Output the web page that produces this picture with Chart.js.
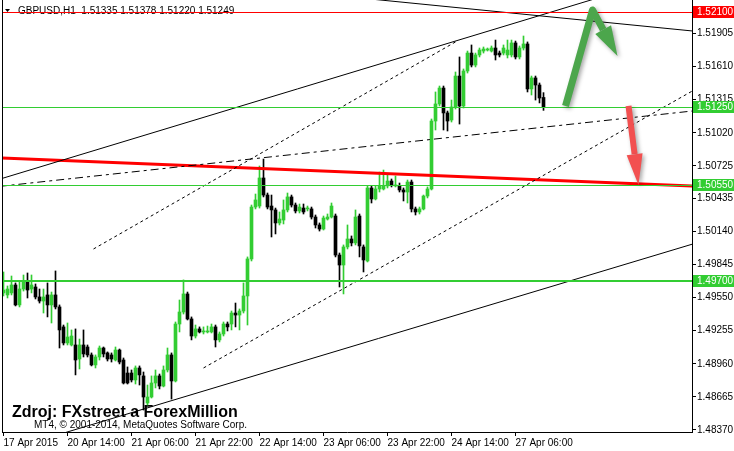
<!DOCTYPE html>
<html>
<head>
<meta charset="utf-8">
<script src="https://cdn.jsdelivr.net/npm/chart.js@4.4.1/dist/chart.umd.min.js"></script>
<style>
html, body { margin: 0; padding: 0; background: #fff; }
#wrap { width: 734px; height: 451px; position: relative; }
</style>
</head>
<body>
<div id="wrap"><canvas id="chart"></canvas></div>
<script>
// GBPUSD H1, 17.4. - 27.4.2015, one value per hourly bar
var opens = [
  1.49592, 1.49574, 1.49592, 1.49663, 1.49485, 1.49627, 1.49699, 1.49627, 1.49645, 1.49556,
  1.49520, 1.49574, 1.49485, 1.49574, 1.49467, 1.49289, 1.49146, 1.49128, 1.49128, 1.49003,
  1.49128, 1.49110, 1.49039, 1.48950, 1.49021, 1.49101, 1.49057, 1.49039, 1.48994, 1.49083,
  1.48994, 1.48878, 1.48878, 1.48816, 1.48923, 1.48852, 1.48611, 1.48664, 1.48789, 1.48852,
  1.48762, 1.48905, 1.49039, 1.48807, 1.49315, 1.49422, 1.49583, 1.49360, 1.49208, 1.49271,
  1.49244, 1.49244, 1.49244, 1.49289, 1.49173, 1.49226, 1.49315, 1.49315, 1.49413, 1.49395,
  1.49431, 1.49565, 1.49895, 1.50358, 1.50367, 1.50617, 1.50465, 1.50367, 1.50332, 1.50216,
  1.50242, 1.50332, 1.50448, 1.50376, 1.50323, 1.50349, 1.50341, 1.50341, 1.50269, 1.50198,
  1.50162, 1.50251, 1.50269, 1.50278, 1.49930, 1.49841, 1.50002, 1.50073, 1.50038, 1.50278,
  1.50002, 1.49877, 1.50528, 1.50430, 1.50519, 1.50519, 1.50546, 1.50590, 1.50546, 1.50546,
  1.50510, 1.50492, 1.50581, 1.50341, 1.50314, 1.50341, 1.50456, 1.50519, 1.51125, 1.51277,
  1.51419, 1.51197, 1.51134, 1.51250, 1.51526, 1.51259, 1.51571, 1.51731, 1.51624, 1.51714,
  1.51749, 1.51758, 1.51749, 1.51776, 1.51731, 1.51731, 1.51714, 1.51714, 1.51821, 1.51696,
  1.51776, 1.51812, 1.51411, 1.51509, 1.51446, 1.51335
];
var highs = [
  1.49779, 1.49654, 1.49743, 1.49681, 1.49699, 1.49752, 1.49770, 1.49752, 1.49672, 1.49627,
  1.49627, 1.49681, 1.49600, 1.49788, 1.49485, 1.49306, 1.49324, 1.49262, 1.49271, 1.49181,
  1.49262, 1.49128, 1.49057, 1.49039, 1.49119, 1.49110, 1.49066, 1.49057, 1.49110, 1.49092,
  1.49012, 1.48932, 1.48905, 1.48941, 1.48941, 1.48887, 1.48771, 1.48852, 1.48905, 1.48869,
  1.48941, 1.49101, 1.49057, 1.49333, 1.49529, 1.49708, 1.49600, 1.49378, 1.49306, 1.49289,
  1.49289, 1.49297, 1.49315, 1.49306, 1.49244, 1.49333, 1.49333, 1.49431, 1.49502, 1.49449,
  1.49681, 1.49913, 1.50376, 1.50474, 1.50724, 1.50786, 1.50483, 1.50465, 1.50349, 1.50314,
  1.50421, 1.50483, 1.50465, 1.50394, 1.50385, 1.50385, 1.50367, 1.50358, 1.50287, 1.50216,
  1.50278, 1.50296, 1.50394, 1.50296, 1.49948, 1.50020, 1.50198, 1.50100, 1.50332, 1.50296,
  1.50020, 1.50546, 1.50546, 1.50546, 1.50670, 1.50688, 1.50653, 1.50608, 1.50635, 1.50572,
  1.50528, 1.50599, 1.50599, 1.50358, 1.50358, 1.50465, 1.50537, 1.51143, 1.51384, 1.51437,
  1.51437, 1.51214, 1.51312, 1.51562, 1.51696, 1.51589, 1.51749, 1.51803, 1.51731, 1.51776,
  1.51785, 1.51776, 1.51794, 1.51847, 1.51749, 1.51803, 1.51847, 1.51847, 1.51838, 1.51794,
  1.51883, 1.51830, 1.51526, 1.51526, 1.51464, 1.51378
];
var lows = [
  1.49565, 1.49547, 1.49574, 1.49476, 1.49467, 1.49609, 1.49547, 1.49592, 1.49538, 1.49502,
  1.49413, 1.49378, 1.49324, 1.49449, 1.49101, 1.49128, 1.49128, 1.49119, 1.48861, 1.48914,
  1.49021, 1.49021, 1.48941, 1.48923, 1.48994, 1.49021, 1.48985, 1.48976, 1.48985, 1.48959,
  1.48780, 1.48780, 1.48798, 1.48780, 1.48771, 1.48548, 1.48593, 1.48655, 1.48745, 1.48736,
  1.48754, 1.48887, 1.48646, 1.48798, 1.49244, 1.49404, 1.49351, 1.49173, 1.49190, 1.49235,
  1.49226, 1.49235, 1.49235, 1.49110, 1.49155, 1.49208, 1.49253, 1.49262, 1.49289, 1.49262,
  1.49413, 1.49306, 1.49877, 1.50341, 1.50349, 1.50448, 1.50341, 1.50091, 1.50118, 1.50198,
  1.50207, 1.50314, 1.50358, 1.50305, 1.50305, 1.50296, 1.50323, 1.50251, 1.50171, 1.50144,
  1.50153, 1.50242, 1.50260, 1.49913, 1.49645, 1.49583, 1.49984, 1.50011, 1.50020, 1.49913,
  1.49779, 1.49868, 1.50394, 1.50421, 1.50492, 1.50510, 1.50528, 1.50537, 1.50537, 1.50492,
  1.50412, 1.50394, 1.50314, 1.50287, 1.50296, 1.50332, 1.50439, 1.50510, 1.51045, 1.51259,
  1.51045, 1.51036, 1.51116, 1.51232, 1.51098, 1.51241, 1.51553, 1.51607, 1.51607, 1.51696,
  1.51731, 1.51749, 1.51740, 1.51669, 1.51696, 1.51714, 1.51687, 1.51696, 1.51678, 1.51678,
  1.51758, 1.51384, 1.51357, 1.51312, 1.51286, 1.51220
];
var closes = [
  1.49618, 1.49627, 1.49663, 1.49485, 1.49627, 1.49699, 1.49618, 1.49663, 1.49556, 1.49520,
  1.49556, 1.49485, 1.49574, 1.49467, 1.49262, 1.49146, 1.49199, 1.49208, 1.48994, 1.49128,
  1.49048, 1.49039, 1.48950, 1.49021, 1.49101, 1.49048, 1.49003, 1.49003, 1.49083, 1.48976,
  1.48789, 1.48789, 1.48816, 1.48923, 1.48861, 1.48664, 1.48664, 1.48789, 1.48852, 1.48762,
  1.48905, 1.49039, 1.48807, 1.49315, 1.49422, 1.49583, 1.49360, 1.49208, 1.49271, 1.49244,
  1.49253, 1.49253, 1.49289, 1.49173, 1.49226, 1.49315, 1.49289, 1.49413, 1.49395, 1.49431,
  1.49565, 1.49895, 1.50358, 1.50421, 1.50617, 1.50465, 1.50358, 1.50332, 1.50216, 1.50251,
  1.50332, 1.50448, 1.50376, 1.50323, 1.50358, 1.50314, 1.50349, 1.50269, 1.50198, 1.50162,
  1.50260, 1.50269, 1.50367, 1.49930, 1.49841, 1.50002, 1.50073, 1.50038, 1.50269, 1.50011,
  1.49886, 1.50528, 1.50430, 1.50519, 1.50546, 1.50546, 1.50590, 1.50555, 1.50555, 1.50510,
  1.50492, 1.50581, 1.50341, 1.50314, 1.50341, 1.50456, 1.50519, 1.51125, 1.51277, 1.51419,
  1.51197, 1.51125, 1.51250, 1.51526, 1.51259, 1.51571, 1.51731, 1.51624, 1.51714, 1.51758,
  1.51767, 1.51767, 1.51776, 1.51714, 1.51714, 1.51776, 1.51758, 1.51821, 1.51696, 1.51776,
  1.51812, 1.51411, 1.51509, 1.51446, 1.51330, 1.51249
];

var timeTicks = [0, 16, 32, 48, 64, 80, 96, 112, 128];
var timeLabels = ['17 Apr 2015', '20 Apr 14:00', '21 Apr 06:00', '21 Apr 22:00', '22 Apr 14:00',
                  '23 Apr 06:00', '23 Apr 22:00', '24 Apr 14:00', '27 Apr 06:00'];
var priceTicks = [1.51905, 1.51610, 1.51315, 1.51020, 1.50725, 1.50435, 1.50140,
                  1.49845, 1.49550, 1.49255, 1.48960, 1.48665, 1.48370];

// horizontal levels (resistance / support)
var levels = [1.52100, 1.51250, 1.50550, 1.49700];

// trend lines, [bar, price] end points
var channelTop = [[-1, 1.50606], [150, 1.52238]];
var channelBottom = [[15, 1.48342], [175, 1.50057]];
var fallingLine = [[90, 1.52219], [175, 1.51918]];
var redLine = [[-1, 1.50795], [175, 1.50542]];
var dashTop = [[22.5, 1.49984], [113, 1.51830]];
var dashBottom = [[50, 1.48923], [175, 1.51449]];
var dashMid = [[-1, 1.50542], [175, 1.51225]];

// arrows drawn on the chart, [bar, price]
var upArrow = [[140.5, 1.51259], [147.25, 1.52115], [153.5, 1.51705]];
var downArrow = [[156.25, 1.51259], [158.75, 1.50555]];

var GREEN = '#32cd32';
var FONT = '"Liberation Sans", Arial, sans-serif';

Chart.defaults.font.family = FONT;
Chart.defaults.font.size = 10;
Chart.defaults.color = '#000';

function candleColor(ctx) {
    var i = ctx.dataIndex;
    return closes[i] >= opens[i] ? GREEN : '#000000';
}

function toPoints(arr) {
    return arr.map(function (p) { return { x: p[0], y: p[1] }; });
}

function trend(arr, color, width, dash) {
    return {
        type: 'line',
        data: toPoints(arr),
        borderColor: color,
        borderWidth: width,
        borderDash: dash || [],
        pointRadius: 0,
        fill: false,
        tension: 0,
        order: 0
    };
}

var wickData = opens.map(function (o, i) { return { x: i, y: [lows[i], highs[i]] }; });
var bodyData = opens.map(function (o, i) { return { x: i, y: [o, closes[i]] }; });

var datasets = [
    { type: 'bar', data: wickData, backgroundColor: candleColor, barThickness: 1, grouped: false, order: 2 },
    { type: 'bar', data: bodyData, backgroundColor: candleColor, barThickness: 3, grouped: false, minBarLength: 1, order: 1 },
    trend(channelTop, '#000', 1),
    trend(channelBottom, '#000', 1),
    trend(fallingLine, '#000', 1),
    trend(dashTop, '#000', 1, [3, 3]),
    trend(dashBottom, '#000', 1, [3, 3]),
    trend(dashMid, '#000', 1, [8, 4, 3, 4]),
    trend(redLine, '#ff0000', 3)
];

function drawArrow(chart, pts, color, width, headLen, headHalf) {
    var c = chart.ctx, xs = chart.scales.x, ys = chart.scales.y;
    var p = pts.map(function (q) { return [xs.getPixelForValue(q[0]), ys.getPixelForValue(q[1])]; });
    var n = p.length;
    var tip = p[n - 1], prev = p[n - 2];
    var dx = tip[0] - prev[0], dy = tip[1] - prev[1];
    var len = Math.sqrt(dx * dx + dy * dy);
    var ux = dx / len, uy = dy / len;
    var bx = tip[0] - ux * headLen, by = tip[1] - uy * headLen;
    c.save();
    c.shadowColor = 'rgba(0,0,0,0.35)';
    c.shadowBlur = 4;
    c.shadowOffsetX = 2;
    c.shadowOffsetY = 2;
    c.strokeStyle = color;
    c.fillStyle = color;
    c.lineWidth = width;
    c.lineJoin = 'round';
    c.beginPath();
    c.moveTo(p[0][0], p[0][1]);
    for (var i = 1; i < n - 1; i++) c.lineTo(p[i][0], p[i][1]);
    c.lineTo(bx, by);
    c.stroke();
    c.beginPath();
    c.moveTo(tip[0], tip[1]);
    c.lineTo(bx - uy * headHalf, by + ux * headHalf);
    c.lineTo(bx + uy * headHalf, by - ux * headHalf);
    c.closePath();
    c.fill();
    c.restore();
}

var mt4Plugin = {
    id: 'mt4',
    beforeDatasetsDraw: function (chart) {
        var c = chart.ctx, n = opens.length - 1;
        c.save();
        c.fillStyle = '#000';
        c.beginPath();
        c.moveTo(5, 9); c.lineTo(10, 9); c.lineTo(7.5, 12); c.closePath();
        c.fill();
        c.font = '10px ' + FONT;
        c.textBaseline = 'middle';
        var head = 'GBPUSD,H1  ' + [opens[n], highs[n], lows[n], closes[n]].map(function (v) { return v.toFixed(5); }).join(' ');
        c.fillText(head, 18, 11);
        c.font = 'bold 16px ' + FONT;
        c.textBaseline = 'alphabetic';
        c.fillText('Zdroj: FXstreet a ForexMillion', 12, 417);
        c.font = '10px ' + FONT;
        c.textBaseline = 'middle';
        c.fillText('MT4, \u00a9 2001-2014, MetaQuotes Software Corp.', 34, 425);
        c.restore();
    },
    afterDatasetsDraw: function (chart) {
        var c = chart.ctx, a = chart.chartArea, ys = chart.scales.y;
        // horizontal levels, snapped to whole pixels so they stay crisp
        c.save();
        levels.forEach(function (v, k) {
            var y = Math.round(ys.getPixelForValue(v));
            c.fillStyle = k === 0 ? '#ff0000' : GREEN;
            c.fillRect(a.left, k === 3 ? y - 1 : y, a.right - a.left, k === 3 ? 2 : 1);
        });
        c.restore();
        drawArrow(chart, upArrow, '#4ca64c', 7, 30, 9);
        drawArrow(chart, downArrow, '#f25050', 6, 31, 8);
    },
    afterDraw: function (chart) {
        var c = chart.ctx, a = chart.chartArea, ys = chart.scales.y;
        c.save();
        c.strokeStyle = '#000';
        c.lineWidth = 1;
        c.beginPath();
        c.moveTo(a.left + 0.5, a.top);
        c.lineTo(a.left + 0.5, a.bottom);
        c.stroke();
        c.font = '10px ' + FONT;
        c.textBaseline = 'middle';
        levels.forEach(function (v, k) {
            var y = Math.round(ys.getPixelForValue(v));
            c.fillStyle = k === 0 ? '#ff0000' : GREEN;
            c.fillRect(a.right + 1, y - 6, chart.width - a.right - 1, 12);
            c.fillStyle = '#fff';
            c.fillText(v.toFixed(5), a.right + 5, y + 0.5);
        });
        c.restore();
    }
};

new Chart(document.getElementById('chart'), {
    type: 'bar',
    data: { datasets: datasets },
    options: {
        responsive: true,
        maintainAspectRatio: false,
        animation: false,
        layout: { padding: { left: 2, top: 0, right: 0, bottom: 0 } },
        plugins: { legend: { display: false }, tooltip: { enabled: false } },
        scales: {
            x: {
                type: 'linear',
                min: -0.375,
                max: 172.125,
                offset: false,
                grid: { display: true, drawOnChartArea: false, drawTicks: true, tickLength: 4, color: '#000', offset: false },
                border: { display: true, color: '#000' },
                ticks: {
                    autoSkip: false, maxRotation: 0, align: 'start', padding: 1, color: '#000',
                    callback: function (v) { var k = timeTicks.indexOf(v); return k < 0 ? '' : timeLabels[k]; }
                },
                afterBuildTicks: function (s) { s.ticks = timeTicks.map(function (v) { return { value: v }; }); },
                afterFit: function (s) { s.height = 19; s.paddingLeft = 0; s.paddingRight = 0; }
            },
            y: {
                type: 'linear',
                position: 'right',
                min: 1.48352,
                max: 1.52204,
                grid: { display: true, drawOnChartArea: false, drawTicks: true, tickLength: 4, color: '#000' },
                border: { display: true, color: '#000' },
                ticks: {
                    autoSkip: false, padding: 1, color: '#000',
                    callback: function (v) { return v.toFixed(5); }
                },
                afterBuildTicks: function (s) { s.ticks = priceTicks.map(function (v) { return { value: v }; }); },
                afterFit: function (s) { s.width = 42; s.paddingTop = 0; s.paddingBottom = 0; }
            }
        }
    },
    plugins: [mt4Plugin]
});
</script>
</body>
</html>
